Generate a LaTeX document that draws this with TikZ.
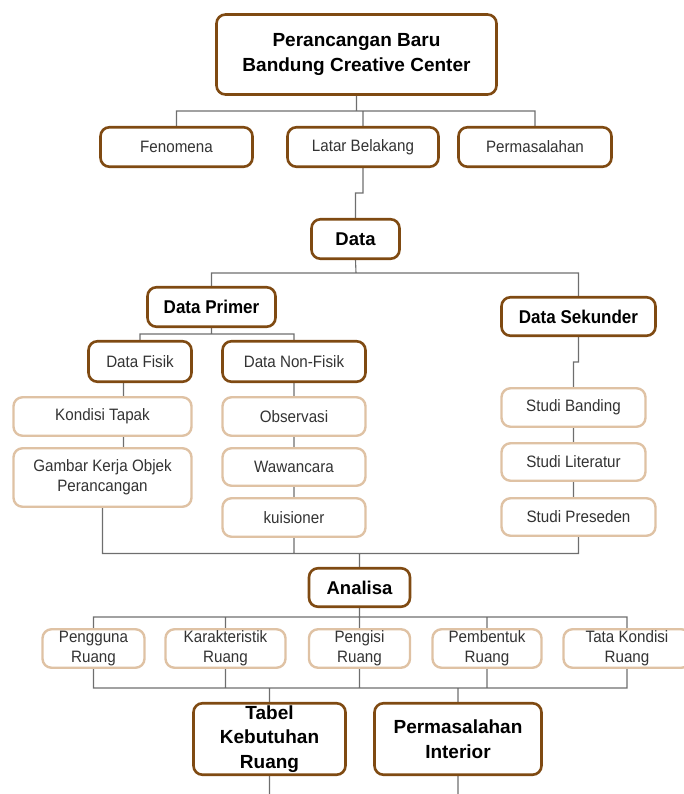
\documentclass[tikz,border=0pt]{standalone}
\usepackage{fontspec}
\setmainfont{Liberation Sans}
\newfontfamily\condfont[FakeStretch=0.92]{Liberation Sans}
\usetikzlibrary{backgrounds}
\definecolor{dbrown}{HTML}{7F4A12}
\definecolor{lbrown}{HTML}{DFC2A4}
\definecolor{conn}{HTML}{6E6E6E}
\definecolor{txt}{HTML}{333333}
\tikzset{
  box/.style={draw, rounded corners=9pt, fill=white, inner sep=0pt, align=center},
  darkbox/.style={box, draw=dbrown, line width=2.6pt},
  lightbox/.style={box, draw=lbrown, line width=2.4pt},
  sz/.style 2 args={minimum width=#1, minimum height=#2},
  reg/.style={font=\condfont\fontsize{16.5}{20}\selectfont, text=txt},
  bigbold/.style={font=\bfseries\fontsize{19}{24.5}\selectfont, text=black},
  midbold/.style={font=\bfseries\fontsize{18.5}{22}\selectfont, text=black},
  smbold/.style={font=\condfont\bfseries\fontsize{18.5}{22}\selectfont, text=black},
  conline/.style={draw=conn, line width=1.1pt},
}
\begin{document}
\begin{tikzpicture}[x=1pt,y=-1pt]
\useasboundingbox (0,0) rectangle (683,794);

% level 0
\node[darkbox, bigbold, sz={280pt}{80pt}] (top) at (356.5,54.5) {Perancangan Baru\\Bandung Creative Center};
% level 1
\node[darkbox, reg, sz={152pt}{39.5pt}] (fen) at (176.5,147) {Fenomena};
\node[darkbox, reg, sz={151pt}{39.5pt}] (lat) at (363,147) {Latar Belakang};
\node[darkbox, reg, sz={153pt}{39.5pt}] (perm) at (535,147) {Permasalahan};
% data
\node[darkbox, midbold, sz={88pt}{39.5pt}] (data) at (355.5,239) {Data};
\node[darkbox, smbold, sz={128pt}{39.5pt}] (dprim) at (211.5,307) {Data Primer};
\node[darkbox, smbold, sz={154pt}{38.5pt}] (dsek) at (578.5,316.5) {Data Sekunder};
\node[darkbox, reg, sz={103pt}{40.5pt}] (dfis) at (140,361.5) {Data Fisik};
\node[darkbox, reg, sz={143pt}{40.5pt}] (dnon) at (294,361.5) {Data Non-Fisik};
% primer children
\node[lightbox, reg, sz={178pt}{38.5pt}] (kond) at (102.5,416.5) {Kondisi Tapak};
\node[lightbox, reg, sz={178pt}{58.5pt}] (gamb) at (102.5,477.5) {Gambar Kerja Objek\\Perancangan};
\node[lightbox, reg, sz={143pt}{38.5pt}] (obs) at (294,416.5) {Observasi};
\node[lightbox, reg, sz={143pt}{37.5pt}] (waw) at (294,467) {Wawancara};
\node[lightbox, reg, sz={143pt}{38.5pt}] (kuis) at (294,517.5) {kuisioner};
% sekunder children
\node[lightbox, reg, sz={144pt}{38.5pt}] (sband) at (573.5,407.5) {Studi Banding};
\node[lightbox, reg, sz={144pt}{37.5pt}] (slit) at (573.5,462) {Studi Literatur};
\node[lightbox, reg, sz={154pt}{37.5pt}] (spres) at (578.5,517) {Studi Preseden};
% analisa
\node[darkbox, midbold, sz={101pt}{38.5pt}] (anal) at (359.5,587.5) {Analisa};
\node[lightbox, reg, sz={102pt}{38.5pt}] (peng) at (93.5,648.5) {Pengguna\\Ruang};
\node[lightbox, reg, sz={120pt}{38.5pt}] (kar) at (225.5,648.5) {Karakteristik\\Ruang};
\node[lightbox, reg, sz={101pt}{38.5pt}] (pengisi) at (359.5,648.5) {Pengisi\\Ruang};
\node[lightbox, reg, sz={109pt}{38.5pt}] (pemb) at (487,648.5) {Pembentuk\\Ruang};
\node[lightbox, reg, sz={127pt}{38.5pt}] (tata) at (627,648.5) {Tata Kondisi\\Ruang};
% results
\node[darkbox, bigbold, sz={152pt}{71.5pt}] (tabel) at (269.5,739) {Tabel\\Kebutuhan\\Ruang};
\node[darkbox, bigbold, sz={167pt}{71.5pt}] (pint) at (458,739) {Permasalahan\\Interior};

% junction coordinates
\coordinate (j1) at (356.5,111);
\coordinate (k1) at (363,193);
\coordinate (j2) at (356,273);
\coordinate (j3) at (211.5,334);
\coordinate (fx) at (123.5,0);
\coordinate (s1) at (578.5,362);
\coordinate (s2) at (573.5,362);
\coordinate (m1) at (359.5,553.5);
\coordinate (a1) at (359.5,617);
\coordinate (b1) at (359.5,688);
\coordinate (e1) at (269.5,794);
\coordinate (e2) at (458,794);

\begin{pgfonlayer}{background}
\path[conline]
  (top.south) -- (j1)
  (fen.north) |- (j1) -| (perm.north)
  (lat.north) -- (lat.north |- j1)
  (lat.south) -- (k1) -- (k1 -| data.north) -- (data.north)
  (data.south) -- (j2)
  (dprim.north) |- (j2) -| (dsek.north)
  (dprim.south) -- (j3)
  (dfis.north) |- (j3) -| (dnon.north)
  (dfis.south -| fx) -- (kond.north -| fx)
  (kond.south -| fx) -- (gamb.north -| fx)
  (dnon.south) -- (obs.north)
  (obs.south) -- (waw.north)
  (waw.south) -- (kuis.north)
  (dsek.south) -- (s1) -- (s2) -- (sband.north)
  (sband.south) -- (slit.north)
  (slit.south) -- (spres.north -| slit.south)
  (gamb.south) |- (m1)
  (kuis.south) |- (m1)
  (spres.south) |- (m1)
  (m1) -- (anal.north)
  (anal.south) -- (a1)
  (peng.north) |- (a1) -| (tata.north)
  (kar.north) -- (kar.north |- a1)
  (pengisi.north) -- (pengisi.north |- a1)
  (pemb.north) -- (pemb.north |- a1)
  (peng.south) |- (b1) -| (tata.south)
  (kar.south) -- (kar.south |- b1)
  (pengisi.south) -- (pengisi.south |- b1)
  (pemb.south) -- (pemb.south |- b1)
  (tabel.north) -- (tabel.north |- b1)
  (pint.north) -- (pint.north |- b1)
  (tabel.south) -- (e1)
  (pint.south) -- (e2);
\end{pgfonlayer}
\end{tikzpicture}
\end{document}
